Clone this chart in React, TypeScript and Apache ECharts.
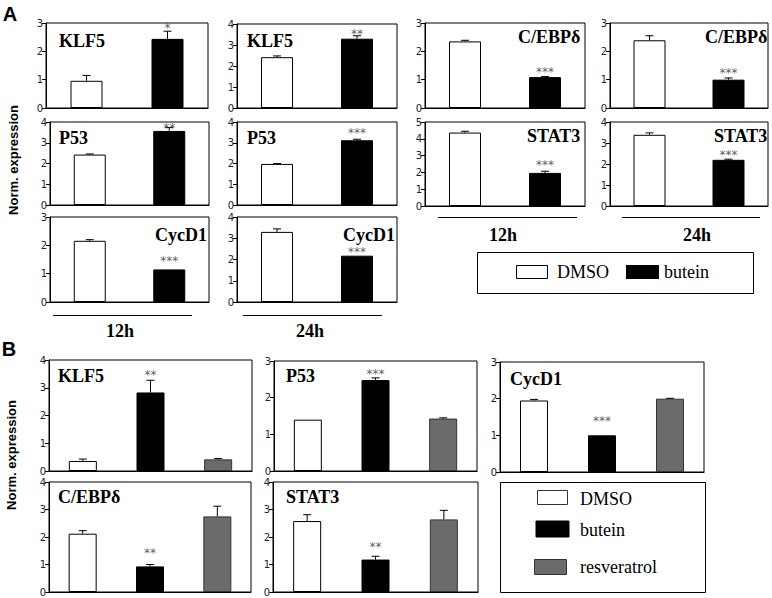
import React, { useEffect, useRef } from 'react';
import * as echarts from 'echarts';

// ---------- data ----------
const groupsA = ['DMSO', 'butein'];
const groupsB = ['DMSO', 'butein', 'resveratrol'];

// Panel A: means and upper error (SD)
const klf5_12h = [0.96, 2.44];
const klf5_12h_err = [0.19, 0.27];
const klf5_24h = [2.42, 3.3];
const klf5_24h_err = [0.06, 0.14];
const cebpd_12h = [2.35, 1.09];
const cebpd_12h_err = [0.04, 0.02];
const cebpd_24h = [2.39, 1.0];
const cebpd_24h_err = [0.16, 0.06];
const p53_12h = [2.43, 3.57];
const p53_12h_err = [0.03, 0.16];
const p53_24h = [1.98, 3.12];
const p53_24h_err = [0.02, 0.05];
const stat3_12h = [4.37, 1.97];
const stat3_12h_err = [0.08, 0.1];
const stat3_24h = [3.39, 2.2];
const stat3_24h_err = [0.09, 0.03];
const cycd1_12h = [2.16, 1.15];
const cycd1_12h_err = [0.04, 0.0];
const cycd1_24h = [3.3, 2.18];
const cycd1_24h_err = [0.14, 0.0];

// Panel B
const klf5_B = [0.36, 2.83, 0.42];
const klf5_B_err = [0.07, 0.44, 0.03];
const p53_B = [1.4, 2.48, 1.43];
const p53_B_err = [0.0, 0.06, 0.02];
const cycd1_B = [1.95, 1.0, 2.0];
const cycd1_B_err = [0.03, 0.0, 0.01];
const cebpd_B = [2.12, 0.93, 2.75];
const cebpd_B_err = [0.11, 0.07, 0.37];
const stat3_B = [2.58, 1.18, 2.64];
const stat3_B_err = [0.23, 0.12, 0.33];

const starsA1 = ['', '*'];
const starsA2 = ['', '**'];
const starsA3 = ['', '***'];
const starsB2 = ['', '**', ''];
const starsB3 = ['', '***', ''];

const timeLabels = ['12h', '24h'];
const yMaxA = [3, 4, 3, 3, 4, 4, 5, 4, 3, 4];
const yMaxB = [4, 3, 3, 4, 4];

const colors = ['#ffffff', '#000000', '#6b6b6b'];

type Panel = {
  gene: string;
  groups: string[];
  values: number[];
  errs: number[];
  stars: string[];
  max: number;
  box: number[];
  label: number[];
  starGap: number;
  barWidth: number;
};

const panels: Panel[] = [
  { gene: 'KLF5', groups: groupsA, values: klf5_12h, errs: klf5_12h_err, stars: starsA1, max: yMaxA[0], box: [46, 23, 162, 85], label: [59, 41], starGap: 5, barWidth: 32 },
  { gene: 'KLF5', groups: groupsA, values: klf5_24h, errs: klf5_24h_err, stars: starsA2, max: yMaxA[1], box: [237, 24, 160, 84], label: [247, 41], starGap: 4, barWidth: 32 },
  { gene: 'C/EBPδ', groups: groupsA, values: cebpd_12h, errs: cebpd_12h_err, stars: starsA3, max: yMaxA[2], box: [425, 23, 160, 85], label: [518, 37], starGap: 7, barWidth: 32 },
  { gene: 'C/EBPδ', groups: groupsA, values: cebpd_24h, errs: cebpd_24h_err, stars: starsA3, max: yMaxA[3], box: [610, 23, 158, 85], label: [705, 37], starGap: 7, barWidth: 32 },
  { gene: 'P53', groups: groupsA, values: p53_12h, errs: p53_12h_err, stars: starsA2, max: yMaxA[4], box: [50, 122, 159, 83], label: [59, 138], starGap: 2, barWidth: 32 },
  { gene: 'P53', groups: groupsA, values: p53_24h, errs: p53_24h_err, stars: starsA3, max: yMaxA[5], box: [237, 122, 160, 83], label: [247, 138], starGap: 8, barWidth: 32 },
  { gene: 'STAT3', groups: groupsA, values: stat3_12h, errs: stat3_12h_err, stars: starsA3, max: yMaxA[6], box: [425, 122, 160, 84], label: [527, 136], starGap: 8, barWidth: 32 },
  { gene: 'STAT3', groups: groupsA, values: stat3_24h, errs: stat3_24h_err, stars: starsA3, max: yMaxA[7], box: [610, 122, 158, 84], label: [714, 136], starGap: 6, barWidth: 32 },
  { gene: 'CycD1', groups: groupsA, values: cycd1_12h, errs: cycd1_12h_err, stars: starsA3, max: yMaxA[8], box: [50, 217, 159, 85], label: [155, 235], starGap: 10, barWidth: 32 },
  { gene: 'CycD1', groups: groupsA, values: cycd1_24h, errs: cycd1_24h_err, stars: starsA3, max: yMaxA[9], box: [237, 217, 160, 85], label: [343, 235], starGap: 6, barWidth: 32 },
  { gene: 'KLF5', groups: groupsB, values: klf5_B, errs: klf5_B_err, stars: starsB2, max: yMaxB[0], box: [49, 360, 203, 111], label: [58, 376], starGap: 7, barWidth: 28 },
  { gene: 'P53', groups: groupsB, values: p53_B, errs: p53_B_err, stars: starsB3, max: yMaxB[1], box: [274, 361, 203, 110], label: [286, 376], starGap: 6, barWidth: 28 },
  { gene: 'CycD1', groups: groupsB, values: cycd1_B, errs: cycd1_B_err, stars: starsB3, max: yMaxB[2], box: [500, 362, 204, 110], label: [510, 379], starGap: 16, barWidth: 28 },
  { gene: 'C/EBPδ', groups: groupsB, values: cebpd_B, errs: cebpd_B_err, stars: starsB2, max: yMaxB[3], box: [49, 482, 202, 110], label: [58, 497], starGap: 14, barWidth: 28 },
  { gene: 'STAT3', groups: groupsB, values: stat3_B, errs: stat3_B_err, stars: starsB2, max: yMaxB[4], box: [273, 482, 205, 110], label: [286, 497], starGap: 11, barWidth: 28 },
];

const serif = 'Liberation Serif';
const sans = 'Liberation Sans';
const tickFont = 'DejaVu Sans';

function txt(text: string, x: number, y: number, size: number, family: string, weight: string, align = 'left', extra: any = {}) {
  return {
    type: 'text', z: 10, ...extra,
    style: {
      text, x, y, align, verticalAlign: 'middle',
      fontSize: size, fontFamily: family, fontWeight: weight, fill: '#000',
    },
  };
}

function buildOption() {
  const grid: any[] = [];
  const xAxis: any[] = [];
  const yAxis: any[] = [];
  const series: any[] = [];
  const graphic: any[] = [];

  panels.forEach((p, i) => {
    grid.push({
      left: p.box[0], top: p.box[1], width: p.box[2], height: p.box[3],
      show: true, borderColor: '#000', borderWidth: 1, backgroundColor: 'transparent',
      containLabel: false,
    });
    xAxis.push({
      type: 'category', gridIndex: i, data: p.groups,
      axisLine: { show: true, lineStyle: { color: '#000', width: 1 } },
      axisTick: { show: false }, axisLabel: { show: false }, splitLine: { show: false },
    });
    yAxis.push({
      type: 'value', gridIndex: i, min: 0, max: p.max, interval: 1,
      axisLine: { show: true, lineStyle: { color: '#000', width: 1 } },
      axisTick: { show: true, inside: false, length: 4, lineStyle: { color: '#000' } },
      axisLabel: { show: true, fontSize: 10, color: '#222', fontFamily: tickFont, margin: 3 },
      splitLine: { show: false },
    });
    series.push({
      type: 'bar', xAxisIndex: i, yAxisIndex: i, barWidth: p.barWidth, silent: true,
      data: p.values.map((v, j) => ({
        value: v,
        itemStyle: { color: colors[j], borderColor: j === 2 ? '#333' : '#000', borderWidth: 1 },
      })),
    });
    // error bars (upper whisker with cap)
    series.push({
      type: 'custom', xAxisIndex: i, yAxisIndex: i, silent: true, z: 5,
      encode: { x: 0, y: 1 },
      data: p.values.map((v, j) => [j, v, p.errs[j]]),
      renderItem: (params: any, api: any) => {
        const x = api.value(0);
        const v = api.value(1);
        const e = api.value(2);
        const base = api.coord([x, v]);
        const top = api.coord([x, v + e]);
        const children: any[] = [];
        if (e > 0) {
          children.push({ type: 'line', shape: { x1: base[0], y1: base[1], x2: top[0], y2: top[1] }, style: { stroke: '#000', lineWidth: 1 } });
          children.push({ type: 'line', shape: { x1: top[0] - 4, y1: top[1], x2: top[0] + 4, y2: top[1] }, style: { stroke: '#000', lineWidth: 1 } });
        }
        return { type: 'group', children };
      },
    });
    // significance stars
    const starData: any[] = [];
    p.values.forEach((v, j) => {
      if (p.stars[j]) starData.push({ value: [j, v + p.errs[j]], star: p.stars[j] });
    });
    series.push({
      type: 'scatter', xAxisIndex: i, yAxisIndex: i, silent: true, z: 6,
      symbolSize: 0,
      itemStyle: { color: '#333' },
      data: starData,
      label: {
        show: true, position: 'inside', offset: [0, -p.starGap + 2],
        formatter: (prm: any) => prm.data.star,
        color: '#333', fontSize: 12, fontFamily: tickFont,
      },
    });
    graphic.push(txt(p.gene, p.label[0], p.label[1], 18, serif, 'bold'));
  });

  // panel letters
  graphic.push(txt('A', 10, 14, 20, sans, 'bold', 'center'));
  graphic.push(txt('B', 9, 349, 20, sans, 'bold', 'center'));
  // y titles
  graphic.push({ type: 'text', x: 13, y: 160, rotation: Math.PI / 2, style: { text: 'Norm. expression', x: 0, y: 0, align: 'center', verticalAlign: 'middle', fontSize: 13, fontWeight: 'bold', fontFamily: sans, fill: '#000' } });
  graphic.push({ type: 'text', x: 11, y: 455, rotation: Math.PI / 2, style: { text: 'Norm. expression', x: 0, y: 0, align: 'center', verticalAlign: 'middle', fontSize: 13, fontWeight: 'bold', fontFamily: sans, fill: '#000' } });

  // time lines and labels
  const timeLines = [
    { x1: 53, x2: 192, y: 315.5, lx: 120, ly: 331, t: timeLabels[0] },
    { x1: 243, x2: 382, y: 315.5, lx: 310, ly: 331, t: timeLabels[1] },
    { x1: 438, x2: 577, y: 217.5, lx: 503, ly: 235, t: timeLabels[0] },
    { x1: 622, x2: 760, y: 217.5, lx: 697, ly: 235, t: timeLabels[1] },
  ];
  timeLines.forEach((l) => {
    graphic.push({ type: 'line', shape: { x1: l.x1, y1: l.y, x2: l.x2, y2: l.y }, style: { stroke: '#000', lineWidth: 1 } });
    graphic.push(txt(l.t, l.lx, l.ly, 18, serif, 'bold', 'center'));
  });

  // legend A
  graphic.push({ type: 'rect', shape: { x: 477.5, y: 252.5, width: 276, height: 41 }, style: { fill: '#fff', stroke: '#000', lineWidth: 1 } });
  graphic.push({ type: 'rect', shape: { x: 516.5, y: 265.5, width: 31, height: 13 }, style: { fill: colors[0], stroke: '#000', lineWidth: 1 } });
  graphic.push(txt(groupsA[0], 557, 272, 18, serif, 'normal'));
  graphic.push({ type: 'rect', shape: { x: 626, y: 265, width: 33, height: 14 }, style: { fill: colors[1] } });
  graphic.push(txt(groupsA[1], 664, 272, 18, serif, 'normal'));

  // legend B
  graphic.push({ type: 'rect', shape: { x: 500.5, y: 482.5, width: 205, height: 110 }, style: { fill: '#fff', stroke: '#000', lineWidth: 1 } });
  const legB = [
    { x: 537.5, y: 490.5, w: 30, h: 14, ty: 499 },
    { x: 536, y: 521, w: 33, h: 16, ty: 530 },
    { x: 534.5, y: 559.5, w: 32, h: 15, ty: 567 },
  ];
  legB.forEach((l, j) => {
    graphic.push({ type: 'rect', shape: { x: l.x, y: l.y, width: l.w, height: l.h }, style: { fill: colors[j], stroke: j === 1 ? '#000' : '#333', lineWidth: 1 } });
    graphic.push(txt(groupsB[j], 580, l.ty, 18, serif, 'normal'));
  });

  return {
    animation: false,
    backgroundColor: '#ffffff',
    grid, xAxis, yAxis, series, graphic,
  };
}

export default function App() {
  const ref = useRef<HTMLDivElement>(null);
  useEffect(() => {
    if (!ref.current) return;
    const chart = echarts.init(ref.current, null, { renderer: 'svg' });
    chart.setOption(buildOption() as any);
    return () => chart.dispose();
  }, []);
  return (
    <div
      ref={ref}
      style={{ position: 'absolute', left: 0, top: 0, width: 772, height: 598, background: '#fff' }}
    />
  );
}
